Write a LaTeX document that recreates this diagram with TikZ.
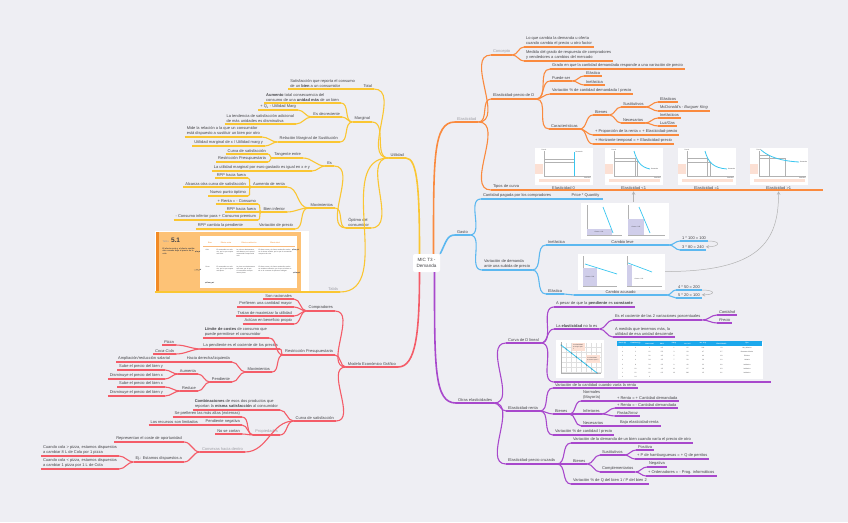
\documentclass[tikz,border=0pt]{standalone}
\usepackage{fontspec}
\setmainfont{Liberation Sans}
\usetikzlibrary{positioning, calc}

\definecolor{bgpaper}{RGB}{238,238,243}
\definecolor{ink}{RGB}{68,68,72}
\definecolor{mutedgray}{RGB}{160,160,166}
\definecolor{yel}{RGB}{250,198,50}
\definecolor{redb}{RGB}{244,92,104}
\definecolor{orab}{RGB}{250,138,62}
\definecolor{blub}{RGB}{92,184,240}
\definecolor{purb}{RGB}{168,72,204}
\definecolor{curvec}{RGB}{56,198,240}
\definecolor{pinkbox}{RGB}{252,224,212}
\definecolor{lav}{RGB}{208,206,234}
\definecolor{tabora}{RGB}{253,194,118}
\definecolor{tabdark}{RGB}{242,138,36}
\definecolor{tabhead}{RGB}{28,168,236}

% frame of the small demand charts (local coordinates)
\newcommand\chartframe{%
  \fill [pinkbox] (1,17) rectangle (9,27);
  \fill [pinkbox] (5,32) rectangle (56,35);
  \draw [guide] (10,4) -- (10,29) -- (57,29);
  \node [chartxt, anchor=south] at (10,4) {Precio};
  \node [chartxt, anchor=north east] at (57,29.5) {Cantidad};
}

\begin{document}
\begin{tikzpicture}[x=1pt, y=-1pt, >=stealth,
    topic/.style={inner xsep=1.5pt, inner ysep=1.2pt, text=ink, align=left,
      font=\fontsize{4}{4.7}\selectfont,
      append after command={(\tikzlastnode.south west) edge (\tikzlastnode.south east)}},
    lt/.style={topic, anchor=south east},
    rt/.style={topic, anchor=south west},
    greytext/.style={text=mutedgray},
    fork/.style={out=0, in=180},
    forkl/.style={out=180, in=0},
    chart/.style={fill=white, inner sep=0, anchor=north west},
    chartxt/.style={inner sep=0, text=ink, font=\fontsize{1.6}{1.9}\selectfont},
    curvelab/.style={inner sep=0.8pt, text=ink, font=\fontsize{4}{4.7}\selectfont},
    guide/.style={gray!60, line width=0.25pt},
    dem/.style={curvec, line width=0.8pt},
    rel/.style={->, gray!60, line width=0.5pt},
    mainlink/.style={line width=1.6pt}]

  \useasboundingbox (0,0) rectangle (848,522);
  \fill [bgpaper] (0,0) rectangle (848,522);

  \node [fill=white, rounded corners=2pt, text=ink, align=center, inner sep=1pt,
    font=\fontsize{4.6}{5.6}\selectfont, minimum width=27pt, minimum height=18pt] (root) at (426.5,263) {MIC T3 -\\Demanda};

  % --- Utilidad
  \begin{scope}[color=yel, line width=1.1pt]
    \node [lt] (util) at (406,158) {Utilidad};
    \node [lt] (total) at (374,89) {Total};
    \node [lt] (tsat) at (357,89) {Satisfacción que reporta el consumo\\de un \textbf{bien} a un consumidor};
    \node [lt] (marg) at (372,122) {Marginal};
    \node [lt] (maum) at (341,103) {\textbf{Aumento} total consecuencia del\\consumo de una \textbf{unidad más} de un bien};
    \node [lt] (mdec) at (342,117) {Es decreciente};
    \node [lt] (mq) at (298,110) {+ Q\textsubscript{x} - Utilidad Marg};
    \node [lt] (mten) at (296,124) {La tendencia de satisfacción adicional\\de más unidades es disminutiva};
    \node [lt] (rms) at (340,142) {Relación Marginal de Sustitución};
    \node [lt] (rmide) at (262,137) {Mide la relación a la que un consumidor\\está dispuesto a sustituir un bien por otro};
    \node [lt] (rum) at (265,146) {Utilidad marginal de x / Utilidad marg y};
    \node [lt] (opt) at (371,228) {Óptimo del\\consumidor};
    \node [lt] (oes) at (334,166) {Es};
    \node [lt] (tang) at (303,158) {Tangente entre};
    \node [lt] (tcs) at (268,154) {Curva de satisfacción};
    \node [lt] (trp) at (268,162) {Restricción Presupuestaria};
    \node [lt] (umg) at (312,171) {La utilidad marginal por euro gastado es igual en x e y};
    \node [lt] (omov) at (335,208) {Movimientos};
    \node [lt] (aren) at (287,187) {Aumento de renta};
    \node [lt] (aren1) at (248,178) {RPP hacia fuera};
    \node [lt] (aren2) at (248,187) {Alcanza otra curva de satisfacción};
    \node [lt] (aren3) at (248,196) {Nuevo punto óptimo};
    \node [lt] (binf) at (287,212) {Bien inferior};
    \node [lt] (binf1) at (258,204) {+ Renta = - Consumo};
    \node [lt] (binf2) at (258,212) {RPP hacia fuera};
    \node [lt] (binf3) at (258,220) {- Consumo inferior para + Consumo premium};
    \node [lt] (vpre) at (295,229) {Variación de precio};
    \node [lt] (vpre1) at (245,229) {RPP cambia la pendiente};
    \node [lt, greytext] (tabla) at (340,292) {Tabla};
    \node [lt, minimum width=154pt, minimum height=60pt, inner sep=0, fill=white] (timg) at (310,292) {};

    \draw [mainlink] ([xshift=-7pt]root.north) .. controls +(0,-60) and +(12,0) .. (util.south east);
    \foreach \c in {total,marg,opt,tabla} \draw (util.south west) to[forkl] (\c.south east);
    \draw (total.south west) to[forkl] (tsat.south east);
    \foreach \c in {maum,mdec,rms} \draw (marg.south west) to[forkl] (\c.south east);
    \foreach \c in {mq,mten} \draw (mdec.south west) to[forkl] (\c.south east);
    \foreach \c in {rmide,rum} \draw (rms.south west) to[forkl] (\c.south east);
    \foreach \c in {oes,omov} \draw (opt.south west) to[forkl] (\c.south east);
    \foreach \c in {tang,umg} \draw (oes.south west) to[forkl] (\c.south east);
    \foreach \c in {tcs,trp} \draw (tang.south west) to[forkl] (\c.south east);
    \foreach \c in {aren,binf,vpre} \draw (omov.south west) to[forkl] (\c.south east);
    \foreach \c in {aren1,aren2,aren3} \draw (aren.south west) to[forkl] (\c.south east);
    \foreach \c in {binf1,binf2,binf3} \draw (binf.south west) to[forkl] (\c.south east);
    \draw (vpre.south west) to[forkl] (vpre1.south east);
    \draw (tabla.south west) to[forkl] (timg.south east);

    % Tabla 5.1 (picture)
    \fill [tabora] (156,232) rectangle (301,291);
    \fill [tabdark] (156,232) rectangle (158.5,291);
    \fill [white] (200,236) rectangle (297,288);
    \node [chartxt, anchor=base west, text=mutedgray, font=\fontsize{2.6}{3}\selectfont] (ttab) at (162,242) {Tabla};
    \node [chartxt, anchor=base west, font=\fontsize{6.5}{7}\selectfont\bfseries] (tnum) at (170.5,242) {5.1};
    \node [chartxt, anchor=north west, text width=34pt, align=left, font=\fontsize{2}{2.6}\selectfont\bfseries] (tsub) at (162,247) {El efecto renta y el efecto sustitución cuando baja el precio de la cola};
    \foreach \h/\hx in {Bien/210,Efecto renta/226,Efecto sustitución/249,Efecto total/275}
      \node [chartxt, text=tabdark, font=\fontsize{1.9}{2.2}\selectfont] at (\hx,243) {\h};
    \draw [tabdark!60, line width=0.3pt] (203,246) -- (295,246);
    \node [chartxt, anchor=north west] (tcola) at (205,249) {Cola};
    \node [chartxt, anchor=north west] (tpizza) at (205,266) {Pizza};
    \node [chartxt, anchor=north west, text width=17pt, align=left] (tc1) at (216,249) {El consumidor es más rico, por lo que compra más cola.};
    \node [chartxt, anchor=north west, text width=19pt, align=left] (tc2) at (236,249) {La cola es relativamente más barata, por lo que el consumidor compra más cola.};
    \node [chartxt, anchor=north west, text width=34pt, align=left] (tc3) at (258,249) {El efecto renta y el efecto sustitución actúan en el mismo sentido, por lo que el consumidor compra más cola.};
    \node [chartxt, anchor=north west, text width=17pt, align=left] (tp1) at (216,266) {El consumidor es más rico, por lo que compra más pizza.};
    \node [chartxt, anchor=north west, text width=19pt, align=left] (tp2) at (236,266) {La pizza es relativamente más cara, por lo que el consumidor compra menos pizza.};
    \node [chartxt, anchor=north west, text width=34pt, align=left] (tp3) at (258,266) {El efecto renta y el efecto sustitución actúan en sentidos contrarios, por lo que el efecto total en el consumo de pizza es ambiguo.};
    \draw [ink, line width=0.35pt] (195,252) .. controls (197,249) and (198,254) .. (200,251) (194,270) .. controls (197,268) and (198,272) .. (201,269)
      (292,250) .. controls (294,247) and (296,252) .. (299,249) (293,273) .. controls (296,270) and (297,275) .. (300,272)
      (205,283) .. controls (208,280) and (210,285) .. (214,282);
  \end{scope}

  % --- Modelo Economico Grafico
  \begin{scope}[color=redb, line width=1.1pt]
    \node [lt] (model) at (398,367) {Modelo Económico Gráfico};
    \node [lt] (comp) at (335,311) {Compradores};
    \node [lt] (comp1) at (294,299) {Son racionales};
    \node [lt] (comp2) at (294,307) {Prefieren una cantidad mayor};
    \node [lt] (comp3) at (294,316) {Tratan de maximizar la utilidad};
    \node [lt] (comp4) at (294,324) {Actúan en beneficio propio};
    \node [lt] (rpres) at (335,355) {Restricción Presupuestaria};
    \node [lt] (rlim) at (269,338) {\textbf{Límite de costes} de consumo que\\puede permitirse el consumidor};
    \node [lt] (rpend) at (280,349) {La pendiente es el cociente de los precios};
    \node [lt] (rpizza) at (176,345) {\textit{Pizza}};
    \node [lt] (rcola) at (176,354) {\textit{Coca-Cola}};
    \node [lt] (rmov) at (272,372) {Movimientos};
    \node [lt] (hder) at (232,362) {Hacia derecha/izquierda};
    \node [lt] (ampl) at (172,362) {Ampliación/reducción salarial};
    \node [lt] (pend) at (232,382) {Pendiente};
    \node [lt] (paum) at (198,374) {Aumenta};
    \node [lt] (paum1) at (165,370) {Sube el precio del bien y};
    \node [lt] (paum2) at (165,379) {Disminuye el precio del bien x};
    \node [lt] (pred) at (198,391) {Reduce};
    \node [lt] (pred1) at (165,387) {Sube el precio del bien x};
    \node [lt] (pred2) at (165,396) {Disminuye el precio del bien y};
    \node [lt] (csat) at (336,421) {Curva de satisfacción};
    \node [lt] (comb) at (280,410) {\textbf{Combinaciones} de esos dos productos que\\reportan la \textbf{misma satisfacción} al consumidor};
    \node [lt, greytext] (prop) at (280,435) {Propiedades};
    \node [lt] (prop1) at (242,417) {Se prefieren las más altas (externas)};
    \node [lt] (prop2) at (242,425) {Pendiente negativa};
    \node [lt] (prop2a) at (200,425) {Los recursos son limitados};
    \node [lt] (prop3) at (242,434) {No se cortan};
    \node [lt, greytext] (conv) at (245,452) {Convexas hacia dentro};
    \node [lt] (conv1) at (184,442) {Representan el coste de oportunidad};
    \node [lt] (ejem) at (184,462) {Ej.: Estamos dispuestos a};
    \node [lt] (ejem1) at (119,456) {Cuando cola > pizza, estamos dispuestos\\a cambiar 8 L de Cola por 1 pizza};
    \node [lt] (ejem2) at (119,469) {Cuando cola < pizza, estamos dispuestos\\a cambiar 1 pizza por 1 L de Cola};

    \draw [mainlink] ([xshift=-7pt]root.south) .. controls +(0,60) and +(18,0) .. (model.south east);
    \foreach \c in {comp,rpres,csat} \draw (model.south west) to[forkl] (\c.south east);
    \foreach \c in {comp1,comp2,comp3,comp4} \draw (comp.south west) to[forkl] (\c.south east);
    \foreach \c in {rlim,rpend,rmov} \draw (rpres.south west) to[forkl] (\c.south east);
    \foreach \c in {rpizza,rcola} \draw (rpend.south west) to[forkl] (\c.south east);
    \foreach \c in {hder,pend} \draw (rmov.south west) to[forkl] (\c.south east);
    \draw (hder.south west) to[forkl] (ampl.south east);
    \foreach \c in {paum,pred} \draw (pend.south west) to[forkl] (\c.south east);
    \foreach \c in {paum1,paum2} \draw (paum.south west) to[forkl] (\c.south east);
    \foreach \c in {pred1,pred2} \draw (pred.south west) to[forkl] (\c.south east);
    \foreach \c in {comb,prop,conv} \draw (csat.south west) to[forkl] (\c.south east);
    \foreach \c in {prop1,prop2,prop3} \draw (prop.south west) to[forkl] (\c.south east);
    \draw (prop2.south west) to[forkl] (prop2a.south east);
    \foreach \c in {conv1,ejem} \draw (conv.south west) to[forkl] (\c.south east);
    \foreach \c in {ejem1,ejem2} \draw (ejem.south west) to[forkl] (\c.south east);
  \end{scope}

  % --- Elasticidad
  \begin{scope}[color=orab, line width=1.1pt]
    \node [rt, greytext] (elas) at (455,122) {Elasticidad};
    \node [rt, greytext] (conc) at (491,55) {Concepto};
    \node [rt] (conc1) at (524,47) {Lo que cambia la demanda u oferta\\cuando cambia el precio u otro factor};
    \node [rt] (conc2) at (524,61) {Medida del grado de respuesta de compradores\\y vendedores a cambios del mercado};
    \node [rt] (epd) at (491,99) {Elasticidad-precio de D};
    \node [rt] (grado) at (550,69) {Grado en que la cantidad demandada responde a una variación de precio};
    \node [rt] (puede) at (550,81) {Puede ser};
    \node [rt] (pelas) at (584,76) {Elástica};
    \node [rt] (pinel) at (584,85) {Inelástica};
    \node [rt] (pvar) at (550,94) {Variación \% de cantidad demandada / precio};
    \node [rt] (carac) at (549,129) {Características};
    \node [rt] (cbien) at (593,115) {Bienes};
    \node [rt] (csus) at (621,107) {Sustitutivos};
    \node [rt] (csus1) at (658,102) {Elásticos};
    \node [rt] (csus2) at (658,111) {McDonald's - \textit{Burguer King}};
    \node [rt] (cnec) at (621,123) {Necesarios};
    \node [rt] (cnec1) at (658,118) {Inelásticos};
    \node [rt] (cnec2) at (658,126) {\textit{Luz/Gas}};
    \node [rt] (cprop) at (593,135) {+ Proporción de la renta = + Elasticidad-precio};
    \node [rt] (choriz) at (593,144) {+ Horizonte temporal = + Elasticidad-precio};
    \node [rt] (tipos) at (491,190) {Tipos de curva};
    \node [rt, minimum width=297pt, minimum height=46pt, inner sep=0] (tcurv) at (525,190) {};

    \draw [mainlink] ([xshift=7pt]root.north) .. controls +(0,-95) and +(-22,0) .. (elas.south west);
    \foreach \c in {conc,epd,tipos} \draw (elas.south east) to[fork] (\c.south west);
    \foreach \c in {conc1,conc2} \draw (conc.south east) to[fork] (\c.south west);
    \foreach \c in {grado,puede,pvar,carac} \draw (epd.south east) to[fork] (\c.south west);
    \foreach \c in {pelas,pinel} \draw (puede.south east) to[fork] (\c.south west);
    \foreach \c in {cbien,cprop,choriz} \draw (carac.south east) to[fork] (\c.south west);
    \foreach \c in {csus,cnec} \draw (cbien.south east) to[fork] (\c.south west);
    \foreach \c in {csus1,csus2} \draw (csus.south east) to[fork] (\c.south west);
    \foreach \c in {cnec1,cnec2} \draw (cnec.south east) to[fork] (\c.south west);
    \draw (tipos.south east) to[fork] (tcurv.south west);

    % curve types
    \node [chart, minimum width=58pt, minimum height=37pt] (chzero) at (534,147) {};
    \node [chart, minimum width=58pt, minimum height=37pt] (chless) at (604,147) {};
    \node [chart, minimum width=58pt, minimum height=37pt] (chunit) at (677,147) {};
    \node [chart, minimum width=58pt, minimum height=37pt] (chgreat) at (749,147) {};
    \node [curvelab, below=0.6pt of chzero] (ezero) {Elasticidad 0};
    \node [curvelab, below=0.6pt of chless] (eless) {Elasticidad <1};
    \node [curvelab, below=0.6pt of chunit] (eunit) {Elasticidad =1};
    \node [curvelab, below=0.6pt of chgreat] (egreat) {Elasticidad >1};
    \begin{scope}[shift={(chzero.north west)}]
      \chartframe
      \draw [guide] (10,12) -- (40,12) (10,15) -- (40,15);
      \draw [dem] (40,5) -- (40,29);
      \node [chartxt, anchor=west] at (41,5) {Demanda};
    \end{scope}
    \begin{scope}[shift={(chless.north west)}]
      \chartframe
      \draw [guide] (10,11) -- (31.5,11) -- (31.5,29) (10,14) -- (33,14) -- (33,29);
      \draw [dem] (30,4) .. controls (33,14) and (36,20) .. (46,22);
      \node [chartxt, anchor=west] at (46.5,22) {Demanda};
    \end{scope}
    \begin{scope}[shift={(chunit.north west)}]
      \chartframe
      \draw [guide] (10,11) -- (30.5,11) -- (30.5,29) (10,15) -- (33,15) -- (33,29);
      \draw [dem] (28,4) .. controls (31,15) and (36,21) .. (50,22);
      \node [chartxt, anchor=west] at (50.5,22) {Demanda};
    \end{scope}
    \begin{scope}[shift={(chgreat.north west)}]
      \chartframe
      \draw [guide] (10,8) -- (20,8) -- (20,29) (10,11) -- (36,11) -- (36,29);
      \draw [dem] (12,3) .. controls (20,10) and (32,14) .. (50,15);
      \node [chartxt, anchor=west] at (50.5,15) {Demanda};
    \end{scope}
  \end{scope}

  % --- Gasto
  \begin{scope}[color=blub, line width=1.1pt]
    \node [rt] (gasto) at (455,235) {Gasto};
    \node [rt] (cpag) at (481,199) {Cantidad pagada por los compradores};
    \node [rt, minimum width=34pt] (pxq) at (568,199) {Price * Quantity};
    \node [rt] (vdem) at (482,270) {Variación de demanda\\ante una subida de precio};
    \node [rt] (ginel) at (546,245) {Inelástica};
    \node [rt, minimum width=92pt] (leve) at (576,245) {Cambio leve};
    \node [rt] (gl1) at (680,241) {1 * 100 = 100};
    \node [rt] (gl2) at (680,250) {3 * 80 = 240};
    \node [rt] (gelas) at (546,294) {Elástica};
    \node [rt, minimum width=92pt] (acus) at (574,295) {Cambio acusado};
    \node [rt] (ga1) at (676,290) {4 * 50 = 200};
    \node [rt] (ga2) at (676,298) {5 * 20 = 100};

    \draw [mainlink] (root.north east) .. controls +(6,-12) and +(-8,0) .. (gasto.south west);
    \foreach \c in {cpag,vdem} \draw (gasto.south east) to[fork] (\c.south west);
    \draw (cpag.south east) to[fork] (pxq.south west);
    \foreach \c in {ginel,gelas} \draw (vdem.south east) to[fork] (\c.south west);
    \draw (ginel.south east) to[fork] (leve.south west);
    \draw (gelas.south east) to[fork] (acus.south west);
    \foreach \c in {gl1,gl2} \draw (leve.south east) to[fork] (\c.south west);
    \foreach \c in {ga1,ga2} \draw (acus.south east) to[fork] (\c.south west);

    \node [chart, minimum width=88pt, minimum height=36pt] (gchA) at (580,202) {};
    \begin{scope}[shift={(gchA.north west)}]
      \draw [guide] (7,3) -- (7,33) -- (42,33) (48,3) -- (48,33) -- (85,33);
      \fill [lav] (7,27) rectangle (31.5,33);
      \fill [lav] (48,17) rectangle (64,33);
      \draw [dem, line width=0.7pt] (23,5) -- (33,31);
      \draw [dem, line width=0.7pt] (59,5) -- (70,31);
      \node [chartxt] at (19,30) {Gasto = 100};
      \node [chartxt] at (56,25) {Gasto = 240};
    \end{scope}
    \node [chart, minimum width=87pt, minimum height=36pt] (gchB) at (577,253) {};
    \begin{scope}[shift={(gchB.north west)}]
      \draw [guide] (6,3) -- (6,33) -- (40,33) (50,3) -- (50,33) -- (85,33);
      \fill [lav] (6,15) rectangle (20,33);
      \fill [lav] (50,11.5) rectangle (55,33);
      \draw [dem, line width=0.7pt] (8,11) -- (40,21);
      \draw [dem, line width=0.7pt] (51,10) -- (75,19);
      \node [chartxt] at (13,24) {Gasto = 200};
      \node [chartxt] at (62,26) {Gasto = 100};
    \end{scope}
  \end{scope}

  % --- Otras elasticidades
  \begin{scope}[color=purb, line width=1.1pt]
    \node [rt] (otras) at (456,403) {Otras elasticidades};
    \node [rt] (cdl) at (506,343) {Curva de D lineal};
    \node [rt] (cpend) at (554,307) {A pesar de que la \textbf{pendiente} es \textbf{constante}};
    \node [rt] (celas) at (554,329) {La \textbf{elasticidad} no lo es};
    \node [rt] (ccoc) at (613,320) {Es el cociente de las 2 variaciones porcentuales};
    \node [rt] (ccant) at (717,315) {\textit{Cantidad}};
    \node [rt] (cprec) at (717,323) {\textit{Precio}};
    \node [rt] (cmed) at (613,337) {A medida que tenemos más, la\\utilidad de esa unidad desciende};
    \node [rt, minimum width=216pt, minimum height=44pt, inner sep=0] (dimg) at (554,382) {};
    \node [rt] (eren) at (506,411) {Elasticidad-renta};
    \node [rt] (eren1) at (553,388) {Variación de la cantidad cuando varía la renta};
    \node [rt] (ebien) at (553,414) {Bienes};
    \node [rt] (enor) at (581,401) {Normales\\(Mayoría)};
    \node [rt] (enor1) at (615,401) {+ Renta = + Cantidad demandada};
    \node [rt] (einf) at (581,414) {Inferiores};
    \node [rt] (einf1) at (615,408) {+ Renta = - Cantidad demandada};
    \node [rt] (einf2) at (615,416) {\textit{Pasta/Arroz}};
    \node [rt] (enec) at (581,426) {Necesarios};
    \node [rt] (enec1) at (618,426) {Baja elasticidad-renta};
    \node [rt] (eren3) at (553,435) {Variación \% de cantidad / precio};
    \node [rt] (epc) at (506,464) {Elasticidad-precio cruzada};
    \node [rt] (epc1) at (571,443) {Variación de la demanda de un bien cuando varía el precio de otro};
    \node [rt] (pbien) at (571,464) {Bienes};
    \node [rt] (psus) at (600,455) {Sustitutivos};
    \node [rt] (ppos) at (636,450) {Positiva};
    \node [rt] (pham) at (635,459) {+ P de hamburguesas = + Q de perritos};
    \node [rt] (pcom) at (600,472) {Complementarios};
    \node [rt] (pneg) at (647,467) {Negativa};
    \node [rt] (pord) at (646,476) {+ Ordenadores = - Prog. informáticos};
    \node [rt] (epc3) at (571,484) {Variación \% de Q del bien 1 / P del bien 2};

    \draw [mainlink] ([xshift=8pt]root.south) .. controls +(0,95) and +(-22,0) .. (otras.south west);
    \foreach \c in {cdl,eren,epc} \draw (otras.south east) to[fork] (\c.south west);
    \foreach \c in {cpend,celas,dimg} \draw (cdl.south east) to[fork] (\c.south west);
    \foreach \c in {ccoc,cmed} \draw (celas.south east) to[fork] (\c.south west);
    \foreach \c in {ccant,cprec} \draw (ccoc.south east) to[fork] (\c.south west);
    \foreach \c in {eren1,ebien,eren3} \draw (eren.south east) to[fork] (\c.south west);
    \foreach \c in {enor,einf,enec} \draw (ebien.south east) to[fork] (\c.south west);
    \draw (enor.south east) to[fork] (enor1.south west);
    \foreach \c in {einf1,einf2} \draw (einf.south east) to[fork] (\c.south west);
    \draw (enec.south east) to[fork] (enec1.south west);
    \foreach \c in {epc1,pbien,epc3} \draw (epc.south east) to[fork] (\c.south west);
    \foreach \c in {psus,pcom} \draw (pbien.south east) to[fork] (\c.south west);
    \foreach \c in {ppos,pham} \draw (psus.south east) to[fork] (\c.south west);
    \foreach \c in {pneg,pord} \draw (pcom.south east) to[fork] (\c.south west);

    % linear demand curve and its table
    \node [chart, minimum width=48pt, minimum height=38pt] (dchart) at (555,339) {};
    \begin{scope}[shift={(dchart.north west)}]
      \foreach \g in {11,16,...,46} \draw [gray!25, line width=0.2pt] (\g,4) -- (\g,34);
      \foreach \g in {8,13,...,33} \draw [gray!25, line width=0.2pt] (6,\g) -- (46,\g);
      \draw [guide] (6,3) -- (6,34) -- (46,34);
      \draw [dem] (6,6) -- (42,34);
      \foreach \t in {0,...,7} \fill [ink] ($(6,6)!\t/7!(42,34)$) circle (0.5pt);
      \fill [pinkbox] (17,4) rectangle (30,12);
      \fill [pinkbox] (31,16) rectangle (45,24);
      \node [chartxt, text width=11pt, align=left] at (23.5,8) {La elasticidad es mayor que 1};
      \node [chartxt, text width=12pt, align=left] at (38,20) {La elasticidad es menor que 1};
    \end{scope}
    \node [chart, minimum width=145pt, minimum height=37pt] (dtab) at (617,341) {};
    \begin{scope}[shift={(dtab.north west)}]
      \fill [tabhead] (0,0) rectangle (145,5);
      \foreach \h/\hx in {Precio (P)/5.5,Cantidad (Q)/18.5,Gasto total/32.5,PM P/45,PM Q/57,Inc. \% P/70.5,Inc. \% Q/86,Elasticidad P/104.5,Tipo/130}
        \node [chartxt, text=white, font=\fontsize{1.6}{1.9}\selectfont\bfseries] at (\hx,2.5) {\h};
      \foreach \va/\vb/\vc/\vd/\ve/\vf/\vg/\vh/\vi [count=\r] in {7/0/0/6.5/1/15/200/13/Muy elástica,6/2/12/5.5/3/18/67/3.7/Bastante elástica,5/4/20/4.5/5/22/40/1.8/Elástica,4/6/24/3.5/7/29/29/1.0/Unitaria,3/8/24/2.5/9/40/22/0.6/Inelástica,2/10/20/1.5/11/67/18/0.3/Inelástica,1/12/12/0.5/13/200/15/0.1/Inelástica}
        \foreach \v/\vx in {\va/5.5,\vb/18.5,\vc/32.5,\vd/45,\ve/57,\vf/70.5,\vg/86,\vh/104.5,\vi/130}
          \node [chartxt] at (\vx,4.1*\r+3) {\v};
      \foreach \v/\vx in {0/5.5,14/18.5,0/32.5}
        \node [chartxt] at (\vx,35.8) {\v};
    \end{scope}
  \end{scope}

  % relations
  \draw [rel] (eless.south |- gchA.north) -- (eless.south);
  \draw [rel] (gchB.east) .. controls +(95,0) and +(0,50) .. (egreat.south);
  \draw [rel] (gl1.south east) .. controls +(14,0) and +(14,0) .. (gl2.east);
  \draw [rel] (ga1.south east) .. controls +(14,0) and +(14,0) .. (ga2.east);

\end{tikzpicture}
\end{document}
